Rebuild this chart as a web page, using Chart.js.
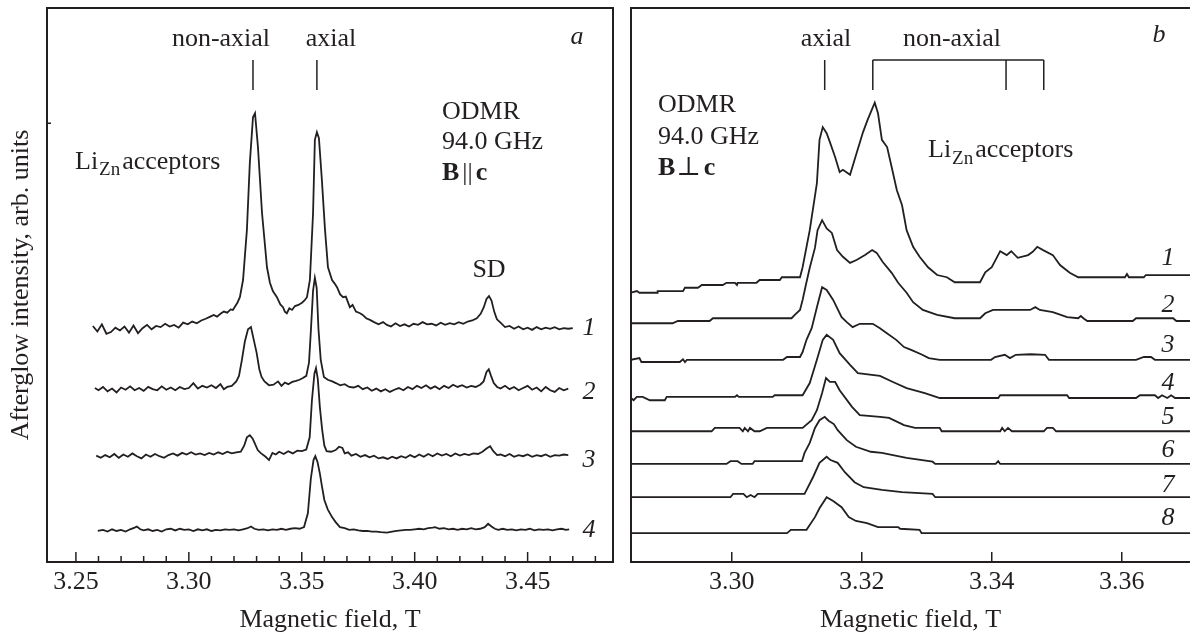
<!DOCTYPE html>
<html>
<head>
<meta charset="utf-8">
<title>ODMR afterglow spectra</title>
<script src="https://cdn.jsdelivr.net/npm/chart.js@4.4.1/dist/chart.umd.min.js"></script>
<style>
    body { margin: 0; background: #fff; }
    #wrap { position: relative; width: 1190px; height: 637px; }
    canvas { position: absolute; top: 0; }
    #chart-a { left: 0; }
    #chart-b { left: 620px; }
</style>
</head>
<body>
<div id="wrap">
    <canvas id="chart-a" width="620" height="637"></canvas>
    <canvas id="chart-b" width="570" height="637"></canvas>
</div>
<script>
// Magnetic field (T), afterglow intensity (arb. units, stacked traces)
const fieldTicksA = [3.25, 3.30, 3.35, 3.40, 3.45];
const minorTicksA = [3.26, 3.27, 3.28, 3.29, 3.31, 3.32, 3.33, 3.34, 3.36, 3.37, 3.38, 3.39, 3.41, 3.42, 3.43, 3.44, 3.46, 3.47, 3.48];
const fieldTicksB = [3.30, 3.32, 3.34, 3.36];

const curveLabelsA = ["1", "2", "3", "4"];
const curveLabelsB = ["1", "2", "3", "4", "5", "6", "7", "8"];

// line positions marked above panel a and b
const markersA = [3.3284, 3.3567];
const markerAxialB = 3.3143;
const bracketNonAxialB = [3.3217, 3.3422, 3.3480];

// panel a: B || c
const traceA1 = [[3.2575,42.6],[3.2595,41.6],[3.2615,42.9],[3.2635,41.2],[3.2655,41.5],[3.2675,42.3],[3.2695,41.8],[3.2715,42.5],[3.2735,41.4],[3.2755,42.7],[3.2775,41.3],[3.2795,42.2],[3.2815,42.8],[3.2835,42.0],[3.2855,42.6],[3.2875,42.4],[3.2895,43.0],[3.2915,42.5],[3.2935,42.8],[3.2955,42.3],[3.2975,43.2],[3.2995,42.9],[3.3015,43.4],[3.3035,43.1],[3.3055,43.6],[3.3075,43.9],[3.3095,44.3],[3.3110,44.6],[3.3125,44.3],[3.3140,44.8],[3.3155,45.2],[3.3170,45.0],[3.3185,45.6],[3.3195,45.5],[3.3215,46.8],[3.3226,47.8],[3.3240,50.9],[3.3257,59.9],[3.3270,72.0],[3.3284,80.3],[3.3293,81.0],[3.3306,74.9],[3.3324,63.0],[3.3346,53.2],[3.3359,50.4],[3.3372,48.9],[3.3390,47.8],[3.3405,46.5],[3.3417,46.0],[3.3425,45.2],[3.3434,44.9],[3.3445,45.8],[3.3457,45.5],[3.3470,46.2],[3.3485,46.4],[3.3501,46.8],[3.3512,47.2],[3.3523,47.8],[3.3536,50.9],[3.3550,63.0],[3.3558,76.2],[3.3567,77.6],[3.3576,76.5],[3.3589,69.0],[3.3603,59.9],[3.3616,53.2],[3.3634,50.9],[3.3645,50.3],[3.3656,49.6],[3.3670,48.3],[3.3683,47.8],[3.3695,47.9],[3.3713,46.0],[3.3725,46.4],[3.3740,45.2],[3.3758,44.9],[3.3770,44.6],[3.3785,44.0],[3.3802,43.7],[3.3820,43.3],[3.3840,42.9],[3.3860,43.3],[3.3877,42.8],[3.3895,42.5],[3.3915,43.1],[3.3935,42.6],[3.3955,42.9],[3.3975,42.5],[3.3995,43.0],[3.4015,42.8],[3.4035,43.3],[3.4055,42.9],[3.4075,43.0],[3.4095,42.7],[3.4115,43.2],[3.4135,42.8],[3.4155,43.1],[3.4175,42.9],[3.4195,43.3],[3.4215,43.0],[3.4235,43.4],[3.4255,43.6],[3.4275,44.0],[3.4292,44.8],[3.4306,46.0],[3.4318,47.5],[3.4329,48.0],[3.4340,47.2],[3.4352,45.2],[3.4364,43.8],[3.4380,43.2],[3.4400,42.4],[3.4420,42.6],[3.4440,42.1],[3.4460,42.5],[3.4480,42.0],[3.4500,42.3],[3.4520,41.9],[3.4540,42.4],[3.4560,42.0],[3.4580,42.3],[3.4600,42.1],[3.4620,42.4],[3.4640,42.0],[3.4660,42.2],[3.4680,42.1],[3.4700,42.2]];

const traceA2 = [[3.2584,31.4],[3.2600,31.0],[3.2620,31.6],[3.2640,30.8],[3.2660,31.3],[3.2680,30.6],[3.2700,31.5],[3.2720,31.1],[3.2740,31.7],[3.2760,31.0],[3.2780,31.4],[3.2800,30.9],[3.2820,31.6],[3.2840,31.2],[3.2860,31.0],[3.2880,31.7],[3.2900,31.1],[3.2920,31.5],[3.2940,31.0],[3.2960,31.6],[3.2980,31.2],[3.3000,31.4],[3.3020,32.3],[3.3040,31.3],[3.3060,31.8],[3.3080,31.5],[3.3100,31.9],[3.3120,31.4],[3.3140,32.1],[3.3155,31.2],[3.3170,31.6],[3.3190,31.8],[3.3210,32.6],[3.3222,33.6],[3.3235,36.5],[3.3248,39.8],[3.3262,42.0],[3.3275,42.4],[3.3288,40.0],[3.3300,37.8],[3.3312,34.8],[3.3322,33.4],[3.3335,32.6],[3.3355,31.9],[3.3375,32.0],[3.3395,32.6],[3.3410,31.8],[3.3425,32.4],[3.3440,32.1],[3.3458,32.5],[3.3475,32.7],[3.3490,32.9],[3.3505,33.2],[3.3520,33.6],[3.3532,36.0],[3.3540,41.5],[3.3550,49.0],[3.3558,51.3],[3.3566,49.5],[3.3574,42.0],[3.3584,36.5],[3.3598,33.4],[3.3615,32.9],[3.3635,32.6],[3.3651,32.3],[3.3670,31.9],[3.3690,32.1],[3.3710,31.6],[3.3730,31.5],[3.3750,31.8],[3.3770,31.2],[3.3790,31.5],[3.3810,30.9],[3.3830,31.3],[3.3850,30.8],[3.3870,31.2],[3.3890,30.7],[3.3910,31.1],[3.3930,31.4],[3.3950,31.0],[3.3970,31.6],[3.3990,31.2],[3.4010,31.8],[3.4030,31.4],[3.4050,31.9],[3.4070,31.3],[3.4090,31.7],[3.4110,31.2],[3.4130,31.8],[3.4150,31.4],[3.4170,32.0],[3.4190,31.6],[3.4210,31.9],[3.4230,31.5],[3.4250,31.8],[3.4270,31.6],[3.4290,32.0],[3.4305,32.6],[3.4318,34.3],[3.4328,34.8],[3.4338,33.6],[3.4350,32.3],[3.4365,31.6],[3.4380,31.3],[3.4400,31.8],[3.4420,31.2],[3.4440,31.6],[3.4460,31.0],[3.4480,31.4],[3.4500,31.8],[3.4520,31.1],[3.4540,31.5],[3.4560,30.8],[3.4580,31.6],[3.4600,31.0],[3.4620,30.7],[3.4640,31.4],[3.4660,31.0],[3.4680,31.3]];

const traceA3 = [[3.2590,19.2],[3.2610,18.8],[3.2630,19.3],[3.2650,18.9],[3.2670,19.5],[3.2690,18.8],[3.2710,19.4],[3.2730,19.0],[3.2750,19.6],[3.2770,19.1],[3.2790,18.7],[3.2810,19.4],[3.2830,19.0],[3.2850,19.5],[3.2870,19.1],[3.2890,18.8],[3.2910,19.3],[3.2930,19.6],[3.2950,19.2],[3.2970,19.7],[3.2990,19.4],[3.3010,19.8],[3.3030,19.4],[3.3050,19.6],[3.3070,19.3],[3.3090,19.7],[3.3110,19.4],[3.3130,19.8],[3.3150,19.5],[3.3170,19.9],[3.3190,19.6],[3.3210,19.8],[3.3230,19.9],[3.3245,21.0],[3.3257,22.5],[3.3270,22.9],[3.3282,22.3],[3.3292,21.4],[3.3305,20.2],[3.3320,19.6],[3.3340,19.0],[3.3355,18.4],[3.3370,19.7],[3.3385,19.4],[3.3400,19.9],[3.3420,19.5],[3.3440,20.0],[3.3460,19.6],[3.3480,20.1],[3.3500,20.0],[3.3520,20.3],[3.3535,22.5],[3.3545,29.2],[3.3556,34.0],[3.3563,35.0],[3.3571,33.0],[3.3580,28.0],[3.3590,24.0],[3.3600,21.0],[3.3610,20.0],[3.3630,19.9],[3.3650,20.2],[3.3665,20.8],[3.3680,20.6],[3.3690,19.6],[3.3705,19.8],[3.3720,19.2],[3.3740,19.5],[3.3760,19.0],[3.3780,19.3],[3.3800,18.9],[3.3820,19.2],[3.3840,18.7],[3.3860,18.9],[3.3880,18.6],[3.3900,19.0],[3.3920,18.7],[3.3940,19.1],[3.3960,18.8],[3.3980,19.3],[3.4000,18.9],[3.4020,19.4],[3.4040,19.0],[3.4060,19.5],[3.4080,19.1],[3.4100,19.6],[3.4120,19.2],[3.4140,19.5],[3.4160,19.1],[3.4180,19.6],[3.4200,19.2],[3.4220,19.5],[3.4240,19.3],[3.4260,19.6],[3.4280,19.5],[3.4300,19.9],[3.4318,20.5],[3.4334,20.9],[3.4348,20.0],[3.4365,19.3],[3.4380,19.4],[3.4400,19.1],[3.4420,19.5],[3.4440,19.0],[3.4460,19.3],[3.4480,19.1],[3.4500,19.4],[3.4520,19.0],[3.4540,19.3],[3.4560,19.1],[3.4580,19.4],[3.4600,19.0],[3.4620,19.3],[3.4640,19.2],[3.4660,19.4],[3.4680,19.3]];

const traceA4 = [[3.2597,5.6],[3.2620,5.8],[3.2640,5.5],[3.2660,5.9],[3.2680,5.6],[3.2700,5.8],[3.2720,5.5],[3.2740,5.9],[3.2760,6.2],[3.2770,6.4],[3.2785,5.9],[3.2800,5.7],[3.2820,5.9],[3.2840,5.6],[3.2860,5.8],[3.2880,5.5],[3.2900,5.9],[3.2920,6.0],[3.2940,5.7],[3.2960,6.0],[3.2980,5.8],[3.3000,5.9],[3.3020,5.6],[3.3040,5.9],[3.3060,5.7],[3.3080,5.9],[3.3100,5.6],[3.3120,5.8],[3.3140,5.7],[3.3160,5.9],[3.3180,5.8],[3.3200,5.9],[3.3220,5.7],[3.3240,5.9],[3.3260,6.1],[3.3275,6.4],[3.3290,6.0],[3.3310,5.8],[3.3330,5.9],[3.3350,5.7],[3.3370,5.9],[3.3390,5.8],[3.3410,6.0],[3.3430,5.8],[3.3450,6.0],[3.3470,6.1],[3.3490,6.0],[3.3510,6.3],[3.3527,8.8],[3.3540,15.0],[3.3552,18.4],[3.3560,19.1],[3.3570,18.0],[3.3580,16.0],[3.3590,13.5],[3.3600,11.2],[3.3615,9.5],[3.3634,8.1],[3.3650,7.2],[3.3669,6.3],[3.3690,6.1],[3.3710,5.8],[3.3730,5.9],[3.3750,5.7],[3.3770,5.6],[3.3790,5.6],[3.3810,5.5],[3.3830,5.5],[3.3850,5.4],[3.3877,5.3],[3.3900,5.5],[3.3920,5.6],[3.3940,5.7],[3.3960,5.8],[3.3980,5.8],[3.4000,5.9],[3.4020,6.0],[3.4040,5.9],[3.4060,6.1],[3.4080,6.2],[3.4090,6.3],[3.4110,6.0],[3.4130,6.1],[3.4150,5.9],[3.4170,6.0],[3.4190,5.8],[3.4210,6.0],[3.4230,5.9],[3.4250,6.1],[3.4270,5.9],[3.4290,6.0],[3.4310,6.3],[3.4325,6.9],[3.4340,6.4],[3.4355,6.0],[3.4370,5.8],[3.4390,6.0],[3.4410,5.8],[3.4430,5.9],[3.4450,5.7],[3.4470,5.9],[3.4490,5.8],[3.4510,6.0],[3.4530,5.7],[3.4550,5.9],[3.4570,5.8],[3.4590,5.9],[3.4610,5.7],[3.4630,5.9],[3.4650,6.0],[3.4670,5.8],[3.4684,5.9]];

// panel b: B perpendicular to c
const traceB1 = [[3.2845,48.6],[3.2854,48.9],[3.2858,48.6],[3.2885,48.6],[3.2886,48.9],[3.2925,48.9],[3.2928,49.5],[3.2948,49.5],[3.2954,50.0],[3.2986,50.0],[3.2992,50.4],[3.3005,50.4],[3.3008,50.0],[3.3009,50.4],[3.3038,50.4],[3.3043,50.9],[3.3074,50.9],[3.3077,51.4],[3.3105,51.4],[3.3109,53.2],[3.3120,59.9],[3.3131,68.4],[3.3135,76.2],[3.3140,78.5],[3.3146,77.4],[3.3151,75.8],[3.3159,73.1],[3.3166,70.4],[3.3171,70.8],[3.3182,69.9],[3.3192,73.8],[3.3202,77.6],[3.3209,79.8],[3.3220,82.9],[3.3225,81.0],[3.3231,76.2],[3.3239,74.9],[3.3246,71.3],[3.3254,67.1],[3.3262,64.4],[3.3269,59.9],[3.3279,56.9],[3.3289,55.1],[3.3302,53.2],[3.3316,51.8],[3.3331,51.4],[3.3343,50.5],[3.3382,50.5],[3.3390,52.3],[3.3400,53.2],[3.3413,56.1],[3.3423,55.4],[3.3430,56.1],[3.3440,54.9],[3.3456,55.4],[3.3463,56.0],[3.3470,56.9],[3.3479,56.3],[3.3494,55.4],[3.3505,53.6],[3.3520,52.2],[3.3533,51.4],[3.3605,51.4],[3.3608,52.0],[3.3611,51.4],[3.3634,51.4],[3.3637,51.8],[3.3705,51.8]];

const traceB2 = [[3.2845,43.1],[3.2909,43.1],[3.2917,43.5],[3.2966,43.5],[3.2971,44.0],[3.3092,44.0],[3.3097,44.6],[3.3105,45.5],[3.3109,47.3],[3.3114,50.0],[3.3120,53.1],[3.3128,56.7],[3.3132,59.9],[3.3139,61.7],[3.3146,60.2],[3.3154,59.4],[3.3162,56.3],[3.3171,55.1],[3.3182,54.0],[3.3192,54.5],[3.3205,55.4],[3.3216,56.3],[3.3223,55.8],[3.3232,54.2],[3.3246,52.2],[3.3256,50.4],[3.3269,48.6],[3.3279,46.9],[3.3294,45.5],[3.3316,44.6],[3.3343,44.0],[3.3382,44.0],[3.3390,44.9],[3.3402,45.5],[3.3459,45.5],[3.3467,46.0],[3.3474,45.5],[3.3494,45.1],[3.3516,44.2],[3.3533,44.0],[3.3537,44.4],[3.3542,43.9],[3.3547,43.5],[3.3617,43.5],[3.3622,44.0],[3.3679,44.0],[3.3684,43.5],[3.3705,43.5]];

const traceB3 = [[3.2845,36.5],[3.2858,36.8],[3.2861,36.1],[3.2869,36.1],[3.2920,36.1],[3.2925,36.6],[3.2928,36.1],[3.2931,36.5],[3.3079,36.5],[3.3085,37.0],[3.3105,37.0],[3.3109,37.9],[3.3115,40.1],[3.3123,42.2],[3.3131,46.0],[3.3139,49.6],[3.3146,49.1],[3.3156,47.3],[3.3169,44.2],[3.3177,43.3],[3.3186,42.4],[3.3197,43.0],[3.3217,43.0],[3.3228,42.2],[3.3236,41.5],[3.3253,40.1],[3.3265,38.8],[3.3276,38.3],[3.3293,37.4],[3.3303,36.8],[3.3320,36.5],[3.3399,36.5],[3.3405,37.0],[3.3420,37.4],[3.3428,36.8],[3.3437,37.4],[3.3460,37.5],[3.3482,37.4],[3.3488,36.5],[3.3622,36.5],[3.3634,37.0],[3.3645,37.0],[3.3651,36.5],[3.3705,36.5]];

const traceB4 = [[3.2845,29.6],[3.2849,29.2],[3.2854,29.8],[3.2863,29.8],[3.2874,29.2],[3.2897,29.2],[3.2900,29.8],[3.3005,29.8],[3.3008,30.1],[3.3011,29.8],[3.3063,29.8],[3.3066,30.1],[3.3109,30.1],[3.3120,32.3],[3.3131,36.5],[3.3140,40.1],[3.3146,41.0],[3.3156,40.1],[3.3166,37.7],[3.3182,35.6],[3.3194,34.1],[3.3228,33.6],[3.3248,32.5],[3.3269,31.4],[3.3297,30.5],[3.3320,29.6],[3.3410,29.6],[3.3413,30.1],[3.3516,30.1],[3.3519,29.6],[3.3622,29.6],[3.3628,30.1],[3.3651,30.1],[3.3656,29.6],[3.3662,30.1],[3.3670,29.6],[3.3676,30.1],[3.3682,29.6],[3.3705,29.6]];

const traceB5 = [[3.2845,23.6],[3.2969,23.6],[3.2974,24.2],[3.3012,24.2],[3.3017,23.6],[3.3020,24.2],[3.3025,23.6],[3.3028,24.2],[3.3035,23.6],[3.3043,23.6],[3.3054,24.2],[3.3109,24.2],[3.3123,25.6],[3.3131,27.4],[3.3139,30.5],[3.3145,33.2],[3.3151,32.5],[3.3159,32.5],[3.3166,31.0],[3.3185,28.0],[3.3197,26.5],[3.3228,26.2],[3.3242,26.0],[3.3265,24.7],[3.3282,24.2],[3.3320,24.2],[3.3323,23.6],[3.3413,23.6],[3.3416,24.2],[3.3420,23.6],[3.3425,24.2],[3.3431,23.6],[3.3480,23.6],[3.3485,24.2],[3.3494,24.2],[3.3499,23.6],[3.3705,23.6]];

const traceB6 = [[3.2845,17.7],[3.2992,17.7],[3.2998,18.2],[3.3009,18.2],[3.3015,17.7],[3.3032,17.7],[3.3035,18.2],[3.3108,18.2],[3.3112,19.7],[3.3120,21.5],[3.3128,24.2],[3.3135,25.6],[3.3143,26.2],[3.3149,25.5],[3.3157,24.9],[3.3163,23.8],[3.3177,22.0],[3.3191,20.8],[3.3214,19.9],[3.3231,19.7],[3.3269,18.8],[3.3309,18.1],[3.3313,17.7],[3.3406,17.7],[3.3410,18.2],[3.3413,17.7],[3.3705,17.7]];

const traceB7 = [[3.2845,11.7],[3.2998,11.7],[3.3002,12.3],[3.3018,12.3],[3.3023,11.7],[3.3029,12.1],[3.3035,11.7],[3.3040,12.3],[3.3112,12.3],[3.3125,15.3],[3.3135,17.9],[3.3146,19.0],[3.3152,18.4],[3.3163,17.9],[3.3174,16.2],[3.3189,14.4],[3.3203,13.5],[3.3231,13.0],[3.3262,12.6],[3.3309,12.3],[3.3313,11.7],[3.3705,11.7]];

const traceB8 = [[3.2845,5.2],[3.3085,5.2],[3.3091,5.8],[3.3115,5.8],[3.3128,8.1],[3.3135,9.7],[3.3146,11.7],[3.3156,11.0],[3.3169,9.9],[3.3180,8.1],[3.3191,7.4],[3.3208,7.0],[3.3225,6.3],[3.3256,6.3],[3.3259,6.0],[3.3289,5.8],[3.3292,5.2],[3.3705,5.2]];

const INK = "#231f20";
const SERIF = "'Liberation Serif', 'Times New Roman', 'DejaVu Serif', serif";

function font(size, style) {
    return (style ? style + " " : "") + size + "px " + SERIF;
}

function text(ctx, s, x, y, f, align) {
    ctx.font = f;
    ctx.fillStyle = INK;
    ctx.textAlign = align || "center";
    ctx.textBaseline = "middle";
    ctx.fillText(s, x, y);
}

// "Li" with subscript "Zn", then "acceptors"
function liZn(ctx, x, y, drop) {
    ctx.fillStyle = INK;
    ctx.textAlign = "left";
    ctx.textBaseline = "alphabetic";
    ctx.font = font(26);
    ctx.fillText("Li", x, y);
    x += ctx.measureText("Li").width + 1;
    ctx.font = font(19);
    ctx.fillText("Zn", x, y + drop);
    x += ctx.measureText("Zn").width + 2;
    ctx.font = font(26);
    ctx.fillText("acceptors", x, y);
}

function line(ctx, x0, y0, x1, y1) {
    ctx.beginPath();
    ctx.moveTo(x0, y0);
    ctx.lineTo(x1, y1);
    ctx.stroke();
}

function toDatasets(traces) {
    return traces.map((t) => ({
        data: t.map((p) => ({ x: p[0], y: p[1] })),
        borderColor: INK,
        borderWidth: 1.8,
        pointRadius: 0,
        fill: false,
        tension: 0,
    }));
}

function xScale(min, max, tickValues) {
    return {
        type: "linear",
        min: min,
        max: max,
        afterBuildTicks: (scale) => {
            scale.ticks = tickValues.map((v) => ({ value: v }));
        },
        afterFit: (scale) => {
            scale.height = 75;
        },
        grid: { display: false, drawTicks: false },
        border: { display: false },
        ticks: {
            autoSkip: false,
            maxRotation: 0,
            padding: 5,
            color: INK,
            font: { family: SERIF, size: 26 },
            callback: (v) => Number(v).toFixed(2),
        },
        title: {
            display: true,
            text: "Magnetic field, T",
            color: INK,
            font: { family: SERIF, size: 26 },
            padding: { top: 0, bottom: 1 },
        },
    };
}

const decorA = {
    id: "decorA",
    afterDatasetsDraw(chart) {
        const ctx = chart.ctx;
        const area = chart.chartArea;
        const x = chart.scales.x;
        const y = chart.scales.y;
        ctx.save();
        ctx.strokeStyle = INK;
        ctx.lineWidth = 2;
        ctx.strokeRect(area.left, area.top, area.right - area.left, area.bottom - area.top);

        ctx.lineWidth = 1.5;
        fieldTicksA.forEach((v) => {
            const px = x.getPixelForValue(v);
            line(ctx, px, area.bottom, px, area.bottom - 10);
        });
        minorTicksA.forEach((v) => {
            const px = x.getPixelForValue(v);
            line(ctx, px, area.bottom, px, area.bottom - 6);
        });
        const py = y.getPixelForValue(79.2);
        line(ctx, area.left, py, area.left + 4, py);

        markersA.forEach((v) => {
            const px = x.getPixelForValue(v);
            line(ctx, px, 60, px, 90);
        });
        text(ctx, "non-axial", 221, 39, font(26));
        text(ctx, "axial", 331, 39, font(26));
        text(ctx, "a", 577, 37, font(26, "italic"));

        text(ctx, "ODMR", 442, 112, font(26), "left");
        text(ctx, "94.0 GHz", 442, 142, font(26), "left");
        ctx.font = font(26, "bold");
        const wB = ctx.measureText("B").width;
        text(ctx, "B", 442, 173, font(26, "bold"), "left");
        ctx.font = font(26);
        const wPar = ctx.measureText("||").width;
        text(ctx, "||", 442 + wB + 3, 173, font(26), "left");
        text(ctx, "c", 442 + wB + wPar + 6, 173, font(26, "bold"), "left");

        liZn(ctx, 75, 169, 6);
        text(ctx, "SD", 489, 270, font(26));

        const labelY = [328, 392, 460, 530];
        curveLabelsA.forEach((s, i) => text(ctx, s, 589, labelY[i], font(26, "italic")));
        ctx.restore();
    },
};

const decorB = {
    id: "decorB",
    afterDatasetsDraw(chart) {
        const ctx = chart.ctx;
        const area = chart.chartArea;
        const x = chart.scales.x;
        ctx.save();
        ctx.strokeStyle = INK;
        ctx.lineWidth = 2;
        ctx.beginPath();
        ctx.moveTo(chart.width, area.top);
        ctx.lineTo(area.left, area.top);
        ctx.lineTo(area.left, area.bottom);
        ctx.lineTo(chart.width, area.bottom);
        ctx.stroke();

        ctx.lineWidth = 1.5;
        fieldTicksB.forEach((v) => {
            const px = x.getPixelForValue(v);
            line(ctx, px, area.bottom, px, area.bottom - 10);
        });

        const pa = x.getPixelForValue(markerAxialB);
        line(ctx, pa, 60, pa, 90);
        const pb = bracketNonAxialB.map((v) => x.getPixelForValue(v));
        line(ctx, pb[0], 60, pb[pb.length - 1], 60);
        pb.forEach((px) => line(ctx, px, 60, px, 90));

        text(ctx, "axial", 206, 39, font(26));
        text(ctx, "non-axial", 332, 39, font(26));
        text(ctx, "b", 539, 35, font(26, "italic"));

        text(ctx, "ODMR", 38, 105, font(26), "left");
        text(ctx, "94.0 GHz", 38, 137, font(26), "left");
        ctx.font = font(26, "bold");
        const wB = ctx.measureText("B").width;
        text(ctx, "B", 38, 168, font(26, "bold"), "left");
        ctx.font = font(26);
        const wPerp = ctx.measureText("\u22A5").width;
        text(ctx, "\u22A5", 38 + wB + 1, 168, font(26), "left");
        text(ctx, "c", 38 + wB + wPerp + 4, 168, font(26, "bold"), "left");

        liZn(ctx, 308, 157, 7);

        const labelY = [258, 305, 345, 383, 417, 450, 485, 518];
        curveLabelsB.forEach((s, i) => text(ctx, s, 548, labelY[i], font(26, "italic")));
        ctx.restore();
    },
};

const chartA = new Chart(document.getElementById("chart-a"), {
    type: "line",
    data: { datasets: toDatasets([traceA1, traceA2, traceA3, traceA4]) },
    options: {
        responsive: false,
        animation: false,
        devicePixelRatio: 1,
        layout: { padding: { left: 0, right: 7, top: 8, bottom: 0 } },
        plugins: { legend: { display: false }, tooltip: { enabled: false } },
        scales: {
            x: xScale(3.2372, 3.4878, fieldTicksA),
            y: {
                min: 0,
                max: 100,
                afterFit: (scale) => {
                    scale.width = 47;
                },
                grid: { display: false, drawTicks: false },
                border: { display: false },
                ticks: { display: false },
                title: {
                    display: true,
                    text: "Afterglow intensity, arb. units",
                    color: INK,
                    font: { family: SERIF, size: 26 },
                    padding: { top: 6, bottom: 0 },
                },
            },
        },
    },
    plugins: [decorA],
});

const chartB = new Chart(document.getElementById("chart-b"), {
    type: "line",
    data: { datasets: toDatasets([traceB1, traceB2, traceB3, traceB4, traceB5, traceB6, traceB7, traceB8]) },
    options: {
        responsive: false,
        animation: false,
        devicePixelRatio: 1,
        layout: { padding: { left: 11, right: 0, top: 8, bottom: 0 } },
        plugins: { legend: { display: false }, tooltip: { enabled: false } },
        scales: {
            x: xScale(3.2845, 3.3705, fieldTicksB),
            y: { display: false, min: 0, max: 100 },
        },
    },
    plugins: [decorB],
});
</script>
</body>
</html>
